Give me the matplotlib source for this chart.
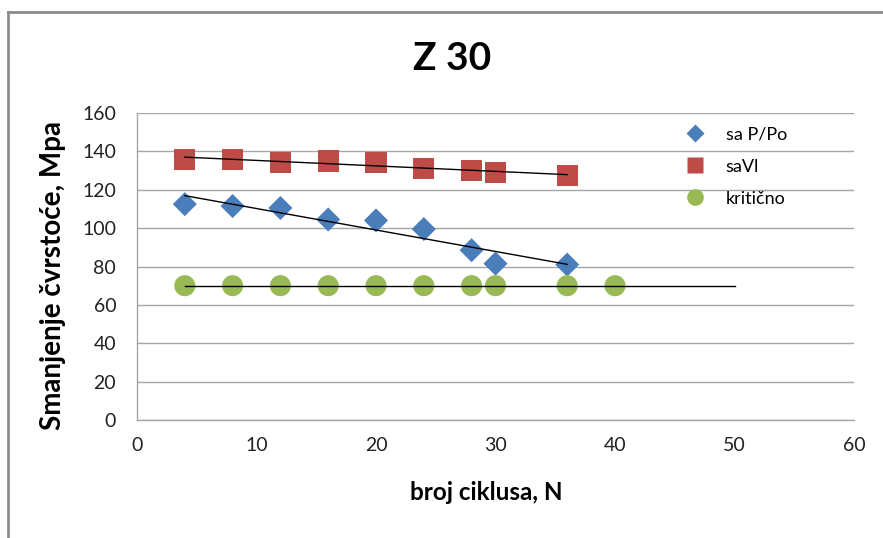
import matplotlib
matplotlib.use("Agg")
import matplotlib.pyplot as plt
import numpy as np
from matplotlib.lines import Line2D

plt.rcParams['font.family'] = ['Lato', 'DejaVu Sans']

# Data
x_ppo = [4, 8, 12, 16, 20, 24, 28, 30, 36]
y_ppo = [112.5, 111.5, 110.5, 104.5, 104, 99.5, 88.5, 81.5, 81]
x_vl = [4, 8, 12, 16, 20, 24, 28, 30, 36]
y_vl = [136, 136, 134, 135, 134, 131, 130, 129, 127.5]
x_krit = [4, 8, 12, 16, 20, 24, 28, 30, 36, 40]
y_krit = [70, 70, 70, 70, 70, 70, 70, 70, 70, 70]
krit_trend_x = [4, 50]

labels = ["sa P/Po", "saVl", "kritično"]
title = "Z 30"
xlabel = "broj ciklusa, N"
ylabel = "Smanjenje čvrstoće, Mpa"

W, H = 883, 538
fig = plt.figure(figsize=(W / 100, H / 100), dpi=100)

# outer chart border (top and left visible)
fig.add_artist(Line2D([8 / W, 8 / W], [0, 1 - 12 / H], color='#8c8c8c', lw=2.0))
fig.add_artist(Line2D([8 / W, 1], [1 - 12 / H, 1 - 12 / H], color='#8c8c8c', lw=2.0))

ax = fig.add_axes([137 / W, 1 - 420 / H, (854 - 137) / W, (420 - 113) / H])

blue = '#4a7ebb'
red = '#be4b48'
green = '#98b954'

ax.scatter(x_ppo, y_ppo, marker='D', s=150, color=blue, zorder=3, edgecolors='none')
ax.scatter(x_vl, y_vl, marker='s', s=230, color=red, zorder=3, edgecolors='none')
ax.scatter(x_krit, y_krit, marker='o', s=230, color=green, zorder=3, edgecolors='none')

# linear trend lines
for xs, ys, xr in [(x_ppo, y_ppo, (min(x_ppo), max(x_ppo))),
                   (x_vl, y_vl, (min(x_vl), max(x_vl)))]:
    k, b = np.polyfit(xs, ys, 1)
    xx = np.array(xr)
    ax.plot(xx, k * xx + b, color='black', lw=1.0, zorder=4)
kk, bk = np.polyfit(x_krit, y_krit, 1)
xx = np.array(krit_trend_x)
ax.plot(xx, kk * xx + bk, color='black', lw=1.0, zorder=4)

ax.set_xlim(0, 60)
ax.set_ylim(0, 160)
ax.set_xticks(range(0, 61, 10))
ax.set_yticks(range(0, 161, 20))
ax.yaxis.grid(True, color='#a6a6a6', lw=1.0)
ax.set_axisbelow(True)
for s in ['top', 'right']:
    ax.spines[s].set_visible(False)
for s in ['left', 'bottom']:
    ax.spines[s].set_color('#a6a6a6')
    ax.spines[s].set_linewidth(1.0)
ax.tick_params(axis='both', length=0, labelsize=14, colors='#222222')
ax.tick_params(axis='y', pad=15)
ax.tick_params(axis='x', pad=12)

fig.text(452 / W, 1 - 58 / H, title, ha='center', va='center', fontsize=28, fontweight='bold')
fig.text(486 / W, 1 - 492 / H, xlabel, ha='center', va='center', fontsize=17.5, fontweight='bold')
fig.text(53 / W, 1 - 276 / H, ylabel, ha='center', va='center', fontsize=20, fontweight='bold', rotation=90)

handles = [
    Line2D([], [], marker='D', ls='', color=blue, markersize=9, markeredgecolor='none'),
    Line2D([], [], marker='s', ls='', color=red, markersize=11, markeredgecolor='none'),
    Line2D([], [], marker='o', ls='', color=green, markersize=12, markeredgecolor='none'),
]
leg = fig.legend(handles, labels, loc='upper left', bbox_to_anchor=(668 / W, 1 - 110 / H),
                 frameon=False, fontsize=13, handletextpad=1.1, labelspacing=0.9,
                 handlelength=1.2)

fig.savefig('out.png', dpi=100)
